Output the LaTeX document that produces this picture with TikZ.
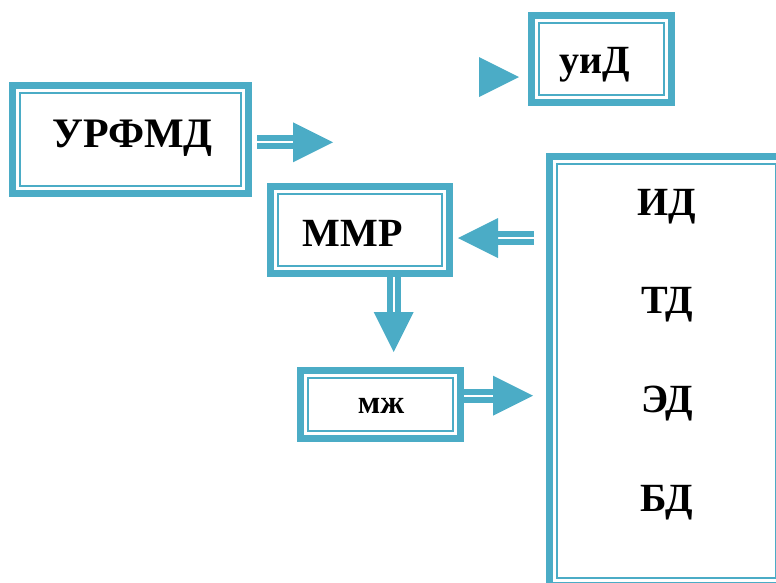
\documentclass[tikz,border=0pt]{standalone}
\usepackage{fontspec}
\setmainfont{Liberation Serif}
\usetikzlibrary{calc}
\definecolor{tl}{HTML}{4BACC6}
\newcommand\dblarr[3]{%
  \draw[shaftline] (#1) -- ($(#2)!40pt!(#1)$);
  \draw[shaftgap,#3] (#1) -- ($(#2)!40pt!(#1)$);
  \fill[tl] (#2) -- ($(#2)!40pt!(#1)!20pt!90:(#2)$) -- ($(#2)!40pt!(#1)!20pt!-90:(#2)$) -- cycle;}
\begin{document}
\begin{tikzpicture}[x=1pt,y=-1pt,
  tbox/.style={draw=tl, line width=7pt, outer sep=3.5pt, inner sep=0pt, fill=white,
    path picture={\draw[tl, line width=2pt]
      ([shift={(7.5pt,-7.5pt)}]path picture bounding box.north west) rectangle
      ([shift={(-7.5pt,7.5pt)}]path picture bounding box.south east);}},
  lbl/.style={inner sep=0pt, anchor=base, font=\bfseries\fontsize{#1}{#1}\selectfont},
  shaftline/.style={draw=tl, line width=14pt},
  shaftgap/.style={draw=white, line width=1.7pt},
]
\path[use as bounding box] (0,0) rectangle (776,582);
\clip (0,0) rectangle (776,582);

% boxes
\node[tbox, minimum width=236pt, minimum height=108pt] (urf) at (130.5,139.5) {};
\node[tbox, minimum width=140pt, minimum height=87pt] (uid) at (601.5,59) {};
\node[tbox, minimum width=179pt, minimum height=87pt] (mmr) at (360,230) {};
\node[tbox, minimum width=160pt, minimum height=68pt] (mzh) at (380.5,404.5) {};
\node[tbox, minimum width=234pt, minimum height=429pt] (big) at (666.5,371) {};

% labels
\node[lbl=42] (turf) at (132.5,147.7) {УРФМД};
\node[lbl=40] (tuid) at (595,73.3) {уиД};
\node[lbl=40] (tmmr) at (352.5,246) {ММР};
\node[lbl=33] (tmzh) at (381,413.3) {мж};
\node[lbl=40] (tid) at (667,215) {ИД};
\node[lbl=40] (ttd) at (667,313) {ТД};
\node[lbl=40] (ted) at (667,412) {ЭД};
\node[lbl=40] (tbd) at (667,511) {БД};

% arrow tips (free ends)
\coordinate (a1t) at (333,142.3);
\coordinate (a1s) at ($(urf.east |- a1t)+(5pt,0)$);
\coordinate (a0t) at (519,77);
\coordinate (a2t) at (458,238);
\coordinate (a2s) at ($(big.west |- a2t)+(-12pt,0)$);
\coordinate (a3t) at (393.7,352);
\coordinate (a3s) at (mmr.south -| a3t);
\coordinate (a4t) at (533,395.7);
\coordinate (a4s) at (mzh.east |- a4t);

% connectors
\dblarr{a1s}{a1t}{yshift=-3pt}
\dblarr{a2s}{a2t}{yshift=-2.5pt}
\dblarr{a3s}{a3t}{xshift=3pt}
\dblarr{a4s}{a4t}{yshift=-3pt}
\fill[tl] (a0t) -- ++(-40,-20) -- ++(0,40) -- cycle;
\end{tikzpicture}
\end{document}
